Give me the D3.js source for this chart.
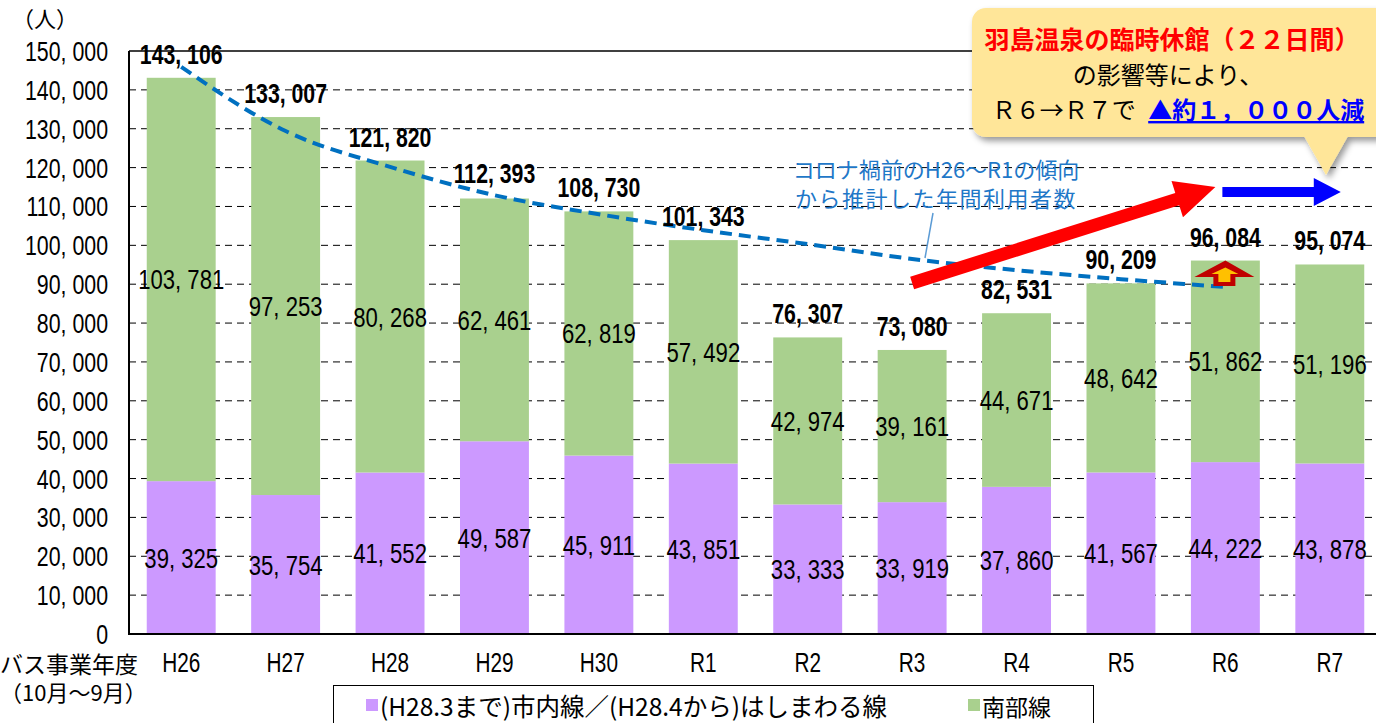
<!DOCTYPE html>
<html>
<head>
<meta charset="utf-8">
<script src="https://cdn.jsdelivr.net/npm/d3@7"></script>
<style>
  body { margin: 0; background: #fff; }
  svg { display: block; }
</style>
</head>
<body>
<svg id="chart"></svg>
<script>
// data
const years = ['H26', 'H27', 'H28', 'H29', 'H30', 'R1', 'R2', 'R3', 'R4', 'R5', 'R6', 'R7']
const cityLine = [39325, 35754, 41552, 49587, 45911, 43851, 33333, 33919, 37860, 41567, 44222, 43878]
const southLine = [103781, 97253, 80268, 62461, 62819, 57492, 42974, 39161, 44671, 48642, 51862, 51196]
const totals = [143106, 133007, 121820, 112393, 108730, 101343, 76307, 73080, 82531, 90209, 96084, 95074]
// pre-corona trend estimate (H26 - R6)
const trendYears = ['H26', 'H27', 'H28', 'H29', 'H30', 'R1', 'R2', 'R3', 'R4', 'R5', 'R6']
const trend = [145900, 129400, 120200, 112900, 108000, 103900, 100300, 96500, 93600, 91300, 89300]
const yTicks = d3.range(0, 150001, 10000)

const seriesKeys = ['city', 'south']
const seriesColors = { city: '#cc99ff', south: '#a9d08e' }
const legendLabels = ['(H28.3まで)市内線／(H28.4から)はしまわる線', '南部線']

const width = 1376, height = 723
const numFont = "'Liberation Sans', Arial, sans-serif"
const jpFont = "'Noto Sans CJK JP', sans-serif"
// the original numbers use a condensed face, so squeeze them sideways
const squeeze = 0.79

const svg = d3.select('#chart').attr('width', width).attr('height', height)

const x = d3.scaleBand().domain(years).range([129, 1382]).paddingInner(0.34).paddingOuter(0.17)
const y = d3.scaleLinear().domain([0, 150000]).range([634, 51])
const cx = d => x(d) + x.bandwidth() / 2
const fmt = v => d3.format(',')(v).replace(',', ', ')

const defs = svg.append('defs')
defs.append('filter').attr('id', 'shadow')
    .attr('x', '-10%').attr('y', '-10%').attr('width', '130%').attr('height', '140%')
    .append('feDropShadow')
    .attr('dx', 3).attr('dy', 4).attr('stdDeviation', 3)
    .attr('flood-color', '#000').attr('flood-opacity', 0.4)

//gridlines
svg.append('g')
    .selectAll('line')
    .data(yTicks.filter(d => d > 0 && d < 150000))
    .enter().append('line')
    .attr('x1', 129).attr('x2', width)
    .attr('y1', d => y(d)).attr('y2', d => y(d))
    .attr('stroke', '#000').attr('stroke-width', 1)
    .attr('stroke-dasharray', '7,5')

svg.append('line')
    .attr('x1', 129).attr('x2', width)
    .attr('y1', y(150000)).attr('y2', y(150000))
    .attr('stroke', '#000').attr('stroke-width', 1.5)

// stacked bars
const rows = years.map((yr, i) => ({ year: yr, city: cityLine[i], south: southLine[i] }))
const stacked = d3.stack().keys(seriesKeys)(rows)

svg.append('g')
    .selectAll('g')
    .data(stacked)
    .enter().append('g')
    .attr('fill', d => seriesColors[d.key])
    .selectAll('rect')
    .data(d => d)
    .enter().append('rect')
    .attr('x', d => x(d.data.year))
    .attr('width', x.bandwidth())
    .attr('y', d => y(d[1]))
    .attr('height', d => y(d[0]) - y(d[1]))

// axes lines
svg.append('line')
    .attr('x1', 129).attr('x2', 129).attr('y1', y(150000)).attr('y2', y(0))
    .attr('stroke', '#000').attr('stroke-width', 2)
svg.append('line')
    .attr('x1', 128).attr('x2', width).attr('y1', y(0)).attr('y2', y(0))
    .attr('stroke', '#000').attr('stroke-width', 2)

// y tick labels
svg.append('g')
    .selectAll('text')
    .data(yTicks)
    .enter().append('text')
    .attr('transform', d => `translate(108,${y(d) + 10}) scale(${squeeze},1)`)
    .attr('text-anchor', 'end')
    .attr('font-family', numFont)
    .attr('font-size', 27)
    .attr('fill', '#000')
    .text(d => fmt(d))

// x labels
svg.append('g')
    .selectAll('text')
    .data(years)
    .enter().append('text')
    .attr('transform', d => `translate(${cx(d)},672) scale(0.77,1)`)
    .attr('text-anchor', 'middle')
    .attr('font-family', numFont)
    .attr('font-size', 27)
    .text(d => d)

svg.append('text')
    .attr('x', 45).attr('y', 27)
    .attr('text-anchor', 'middle')
    .attr('font-family', jpFont).attr('font-size', 22)
    .text('（人）')

svg.append('text')
    .attr('x', 0).attr('y', 673)
    .attr('font-family', jpFont).attr('font-size', 23)
    .text('バス事業年度')
svg.append('text')
    .attr('x', 0).attr('y', 701)
    .attr('font-family', jpFont).attr('font-size', 22)
    .text('（10月～9月）')

// trend line
const trendLine = d3.line()
    .x((d, i) => cx(trendYears[i]))
    .y(d => y(d))
    .curve(d3.curveMonotoneX)

svg.append('path')
    .datum(trend)
    .attr('d', trendLine)
    .attr('fill', 'none')
    .attr('stroke', '#0070c0')
    .attr('stroke-width', 4)
    .attr('stroke-dasharray', '12,7')

// segment labels
svg.append('g')
    .selectAll('text')
    .data(stacked.flatMap(s => s.map(d => ({ key: s.key, d: d }))))
    .enter().append('text')
    .attr('transform', o => `translate(${cx(o.d.data.year)},${(y(o.d[0]) + y(o.d[1])) / 2 + 10}) scale(${squeeze},1)`)
    .attr('text-anchor', 'middle')
    .attr('font-family', numFont)
    .attr('font-size', 28)
    .text(o => fmt(o.d.data[o.key]))

// total labels
svg.append('g')
    .selectAll('text')
    .data(totals)
    .enter().append('text')
    .attr('transform', (d, i) => `translate(${cx(years[i])},${y(d) - 14}) scale(0.76,1)`)
    .attr('text-anchor', 'middle')
    .attr('font-family', numFont)
    .attr('font-weight', 'bold')
    .attr('font-size', 28)
    .text(d => fmt(d))

// annotation for the trend line
const noteColor = '#1f78c8'
svg.append('line')
    .attr('x1', 933).attr('y1', 213)
    .attr('x2', 925).attr('y2', 258)
    .attr('stroke', '#5b9bd5').attr('stroke-width', 1.5)
svg.append('text')
    .attr('x', 936).attr('y', 178)
    .attr('text-anchor', 'middle')
    .attr('font-family', jpFont).attr('font-size', 22)
    .attr('fill', noteColor)
    .text('コロナ禍前のH26～R1の傾向')
svg.append('text')
    .attr('x', 936).attr('y', 207)
    .attr('text-anchor', 'middle')
    .attr('font-family', jpFont).attr('font-size', 22)
    .attr('letter-spacing', 1.5)
    .attr('fill', noteColor)
    .text('から推計した年間利用者数')

// arrows
function arrowPath(x0, y0, x1, y1, shaft, headLen, headW) {
    let dx = x1 - x0, dy = y1 - y0, len = Math.hypot(dx, dy)
    let ux = dx / len, uy = dy / len, nx = -uy, ny = ux
    let bx = x1 - ux * headLen, by = y1 - uy * headLen
    let p = [
        [x0 + nx * shaft / 2, y0 + ny * shaft / 2],
        [bx + nx * shaft / 2, by + ny * shaft / 2],
        [bx + nx * headW / 2, by + ny * headW / 2],
        [x1, y1],
        [bx - nx * headW / 2, by - ny * headW / 2],
        [bx - nx * shaft / 2, by - ny * shaft / 2],
        [x0 - nx * shaft / 2, y0 - ny * shaft / 2]
    ]
    return 'M' + p.join('L') + 'Z'
}

svg.append('path')
    .attr('d', arrowPath(cx('R3'), y(90300), cx('R6') - 10, y(115000), 13, 40, 38))
    .attr('fill', '#ff0000')
svg.append('path')
    .attr('d', arrowPath(cx('R6') - 3, y(113700), cx('R7') + 11, y(113700), 10, 27, 28))
    .attr('fill', '#0000ff')

// small up arrow on R6 (trend -> actual)
const upBase = y(trend[10]) - 1, upTip = y(totals[10])
const c6 = cx('R6')
svg.append('path')
    .attr('d', 'M' + [[c6 - 12, upBase], [c6 - 12, upBase - 9], [c6 - 31, upBase - 9], [c6, upTip],
        [c6 + 29, upBase - 9], [c6 + 10, upBase - 9], [c6 + 10, upBase]].join('L') + 'Z')
    .attr('fill', '#c00000')
svg.append('path')
    .attr('d', 'M' + [[c6 - 7, upBase - 4], [c6 - 7, upBase - 12], [c6 - 14, upBase - 12], [c6, upTip + 7],
        [c6 + 13, upBase - 12], [c6 + 5, upBase - 12], [c6 + 5, upBase - 4]].join('L') + 'Z')
    .attr('fill', '#ffc000')

// callout box
const callout = svg.append('g').attr('filter', 'url(#shadow)')
callout.append('rect')
    .attr('x', 972).attr('y', 8)
    .attr('width', 430).attr('height', 129)
    .attr('rx', 14)
    .attr('fill', '#ffe699')
callout.append('path')
    .attr('d', 'M1304,136L1348,136L1326,175Z')
    .attr('fill', '#ffe699')

svg.append('text')
    .attr('x', 1172).attr('y', 49)
    .attr('text-anchor', 'middle')
    .attr('font-family', jpFont).attr('font-size', 25).attr('font-weight', 'bold')
    .attr('fill', '#ff0000')
    .text('羽島温泉の臨時休館（２２日間）')
svg.append('text')
    .attr('x', 1168).attr('y', 84)
    .attr('text-anchor', 'middle')
    .attr('font-family', jpFont).attr('font-size', 24)
    .attr('fill', '#000')
    .text('の影響等により、')
const line3 = svg.append('text')
    .attr('x', 1178).attr('y', 119)
    .attr('text-anchor', 'middle')
    .attr('font-family', jpFont).attr('font-size', 24)
    .attr('fill', '#000')
line3.append('tspan').text('Ｒ６→Ｒ７で ')
line3.append('tspan')
    .attr('dx', 7)
    .attr('fill', '#0000ff').attr('font-weight', 'bold')
    .attr('text-decoration', 'underline')
    .text('▲約１，０００人減')

// legend
const legend = svg.append('g')
legend.append('rect')
    .attr('x', 333.5).attr('y', 685.5)
    .attr('width', 760).attr('height', 50)
    .attr('fill', '#fff').attr('stroke', '#000').attr('stroke-width', 1)

const legendX = [366, 968]
seriesKeys.forEach((k, i) => {
    legend.append('rect')
        .attr('x', legendX[i]).attr('y', 699)
        .attr('width', 12).attr('height', 12)
        .attr('fill', seriesColors[k])
    legend.append('text')
        .attr('x', legendX[i] + 14).attr('y', 716)
        .attr('font-family', jpFont).attr('font-size', i === 0 ? 24.5 : 23)
        .text(legendLabels[i])
})
</script>
</body>
</html>
